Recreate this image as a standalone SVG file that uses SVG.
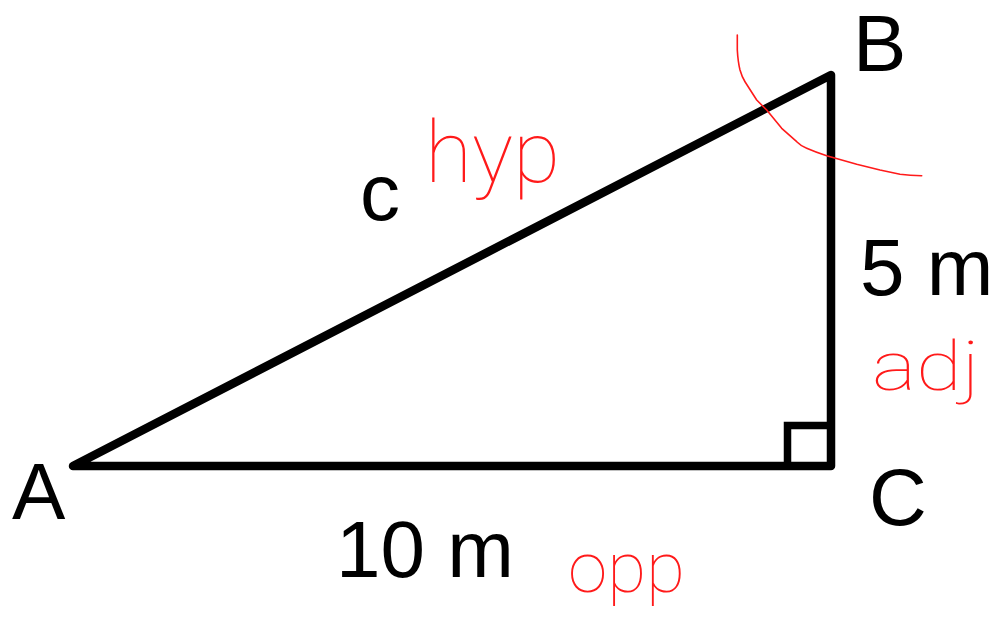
<svg xmlns="http://www.w3.org/2000/svg" width="997" height="621" viewBox="0 0 997 621">
<style>
.lbl{font-family:"Liberation Sans",Arial,sans-serif;font-size:80px;fill:#000}
.hand{font-family:Roboto,"Open Sans",sans-serif;font-weight:100;fill:#ff1a1a}
.ink{fill:none;stroke:#ff1a1a;stroke-width:1.6;stroke-linecap:round;stroke-linejoin:round}
</style>
<rect width="997" height="621" fill="#fff"/>
<g id="triangle">
<path d="M73,466 L831,75 L831,466 Z" fill="none" stroke="#000" stroke-width="8.5" stroke-linejoin="round"/>
<path d="M787.5,466 V425.5 H831" fill="none" stroke="#000" stroke-width="7.5"/>
</g>
<g id="labels">
<text class="lbl" x="12" y="519">A</text>
<text class="lbl" x="853" y="71" font-size="78">B</text>
<text class="lbl" x="869" y="525">C</text>
<text class="lbl" x="360" y="220">c</text>
<text class="lbl" x="860" y="295">5 m</text>
<text class="lbl" x="336" y="577">10 m</text>
</g>
<g id="annotations">
<text class="hand" x="425" y="182" font-size="86" textLength="135" lengthAdjust="spacingAndGlyphs">hyp</text>
<text class="hand" x="872" y="390" font-size="68" textLength="108" lengthAdjust="spacingAndGlyphs">adj</text>
<text class="hand" x="568" y="592" font-size="70" textLength="117" lengthAdjust="spacingAndGlyphs">opp</text>
<path class="ink" d="M737.3,35 L737.3,50 Q738,62 740,70 Q742,77 745,81.7 L756.7,100 L766.7,110 L781.7,128.3 L796.7,141.7 Q801,146 806.7,148.3 Q815,152 826.7,155.7 L856.7,164.3 L880,170 L900,174.3 Q910,175.7 921.7,175.7"/>
</g>
</svg>
